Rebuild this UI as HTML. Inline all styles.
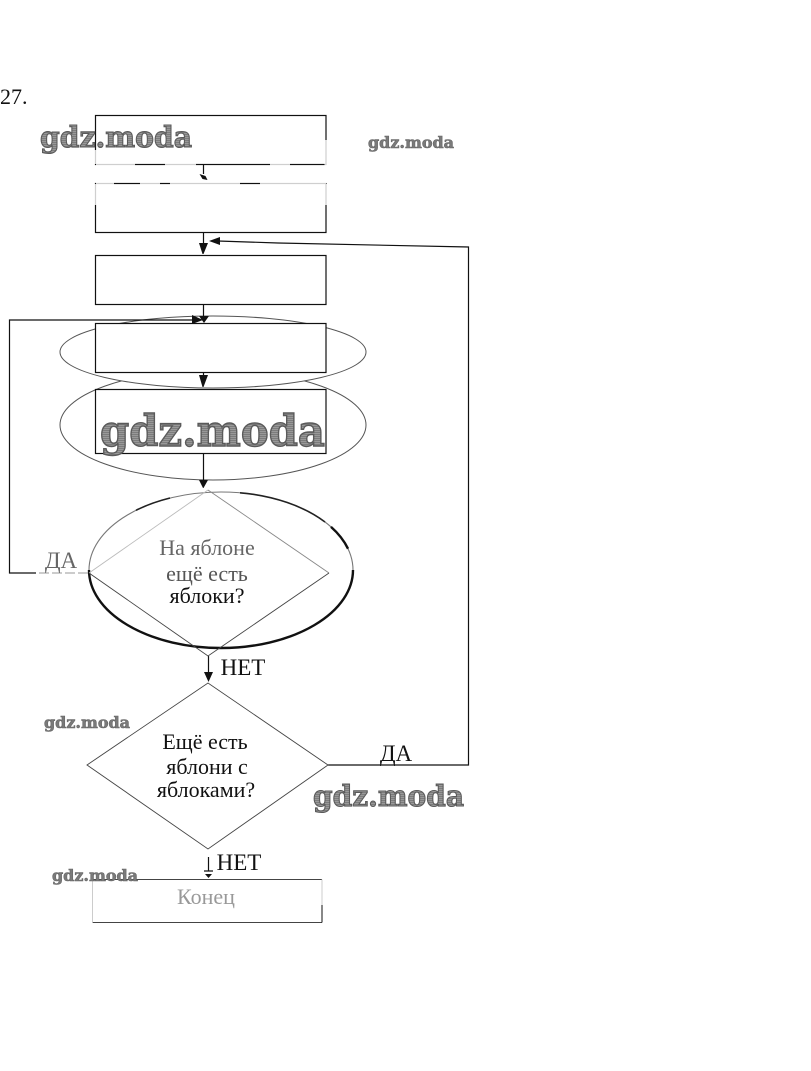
<!DOCTYPE html>
<html><head><meta charset="utf-8"><style>
html,body{margin:0;padding:0;background:#fff}
svg{display:block}
text{font-family:"Liberation Serif","DejaVu Serif",serif}
.t{font-size:22px;fill:#111;text-anchor:middle}
.w{font-family:"DejaVu Serif","Liberation Serif",serif;font-weight:bold;fill:url(#h);stroke:#5a5a5a;stroke-width:1.1}
.s{font-family:"DejaVu Serif","Liberation Serif",serif;font-weight:bold;fill:#7a7a7a;stroke:#666;stroke-width:.6}
</style></head><body>
<svg width="811" height="1071" viewBox="0 0 811 1071" xmlns="http://www.w3.org/2000/svg">
<defs><pattern id="h" width="4" height="2" patternUnits="userSpaceOnUse"><rect width="4" height="2" fill="#999"/><rect width="4" height="1" fill="#7c7c7c"/></pattern></defs>
<rect width="811" height="1071" fill="#fff"/>
<text x="0" y="104" font-size="22" fill="#111">27.</text>
<ellipse cx="213" cy="425" rx="153" ry="55" fill="#fff" stroke="#555" stroke-width="1"/>
<ellipse cx="213" cy="352" rx="153" ry="36" fill="#fff" stroke="#555" stroke-width="1"/>
<ellipse cx="221" cy="570" rx="132" ry="78" fill="none" stroke="#777" stroke-width="1.1"/>
<path d="M89 570A132 78 0 0 0 353 570" fill="none" stroke="#111" stroke-width="2.4"/>
<path d="M136 510.300A132 78 0 0 1 170 498M240 492.800A132 78 0 0 1 325 522" fill="none" stroke="#222" stroke-width="1.6"/>
<path d="M331 526.900A132 78 0 0 1 348 548.700" fill="none" stroke="#111" stroke-width="2.4"/>
<g fill="#fff" stroke="#111" stroke-width="1.2">
<rect x="95.500" y="115.500" width="230.500" height="49"/>
<rect x="95.500" y="183.500" width="230.500" height="49"/>
<rect x="95.500" y="255.500" width="230.500" height="49"/>
<rect x="95.500" y="323.500" width="230.500" height="49"/>
<rect x="95.500" y="389.500" width="230.500" height="64"/>
</g>
<g fill="none" stroke="#111" stroke-width="1.2">
<path d="M203.500 165V174M203.500 232V250M203.500 304V318M203.500 372V384M203.500 453V482"/>
<path d="M36 573H9.500V320H192"/>
<path d="M328 765H468.500V247L278 243 218 241"/>
<path d="M208.500 656V676M208.500 857V871M204 871H213"/>
</g>
<g fill="#111">
<path d="M199.500 174l6 2 2 4-5-1zM199 243h9l-4.500 11h-1zM199 316h10l-5 7zM199 375h9l-4.500 12h-1zM199 480h9l-4.500 8h-.5z"/>
<path d="M204 672h9l-4.500 10zM205 874h7l-3.500 4zM209 241l11-4v8zM203 320l-11-5v9z"/>
</g>
<g fill="none" stroke-width=".9">
<path d="M89 573L208 490" stroke="#bbb"/>
<path d="M208 490L329 573" stroke="#888"/>
<path d="M329 573L208 656 89 573" stroke="#444"/>
<path d="M87 765L208 683 328 765 208 849Z" stroke="#444"/>
</g>
<path d="M92.500 879.500H322M92.500 922.500H322" fill="none" stroke="#444" stroke-width="1"/>
<path d="M92.500 879.500V922.500M322 879.500V905" fill="none" stroke="#ccc" stroke-width="1"/>
<path d="M322 905V922.500" fill="none" stroke="#111" stroke-width="1"/>
<path d="M39 573H88" stroke="#999" stroke-width="1" fill="none" stroke-dasharray="10 3"/>
<g fill="none" stroke="#fff" stroke-opacity=".8" stroke-width="3">
<path d="M326 140V183M326 184V205M96 150V164M96 184V205M96 164.500H135M165 164.500H196M270 164.500H290M96 183.500H114M140 183.500H160M170 183.500H240M260 183.500H326"/>
</g>
<text class="t" x="207" y="555" style="fill:#666">На яблоне</text>
<text class="t" x="207" y="581" style="fill:#555">ещё есть</text>
<text class="t" x="207" y="603">яблоки?</text>
<text class="t" x="205" y="749">Ещё есть</text>
<text class="t" x="207" y="774">яблони с</text>
<text class="t" x="206" y="797">яблоками?</text>
<text class="t" x="243" y="675" style="font-size:23px">НЕТ</text>
<text class="t" x="396" y="761" style="font-size:23px">ДА</text>
<text class="t" x="239" y="870" style="font-size:23px">НЕТ</text>
<text class="t" x="61" y="568" style="fill:#666;font-size:23px">ДА</text>
<text class="t" x="206" y="904" style="fill:#999">Конец</text>
<text class="w" x="40" y="147" font-size="29" textLength="152" lengthAdjust="spacingAndGlyphs">gdz.moda</text>
<text class="s" x="368" y="148" font-size="16" textLength="86" lengthAdjust="spacingAndGlyphs">gdz.moda</text>
<text class="w" x="100" y="446" font-size="43" textLength="225" lengthAdjust="spacingAndGlyphs" style="stroke-width:1.4">gdz.moda</text>
<text class="s" x="44" y="728" font-size="16" textLength="86" lengthAdjust="spacingAndGlyphs">gdz.moda</text>
<text class="w" x="313" y="806" font-size="29" textLength="151" lengthAdjust="spacingAndGlyphs">gdz.moda</text>
<text class="s" x="52" y="881" font-size="16" textLength="86" lengthAdjust="spacingAndGlyphs">gdz.moda</text>
</svg>
</body></html>
